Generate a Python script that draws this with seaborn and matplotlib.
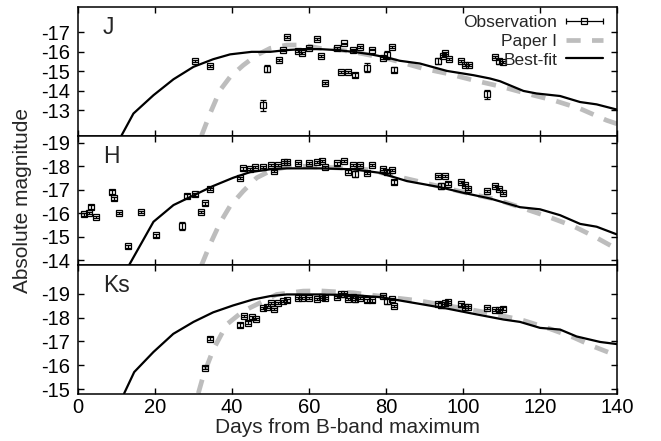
import numpy as np
import pandas as pd
import matplotlib
matplotlib.use("Agg")
import matplotlib.pyplot as plt
import seaborn as sns
from matplotlib.legend_handler import HandlerErrorbar
from matplotlib.container import ErrorbarContainer

# ---------------- data ----------------
# J band
j_fit_day = [11.3, 14.4, 19.6, 24.8, 30.0, 35.1, 39.5, 45.1, 49.9, 54.2, 58.5, 62.9, 67.2, 71.5, 75.8, 80.2,
             83.6, 88.8, 95.8, 102.7, 107.0, 109.6, 115.7, 119.1, 125.2, 130.4, 134.7, 140.0]
j_fit_mag = [-11.7, -12.83, -13.77, -14.59, -15.23, -15.62, -15.87, -16.0, -16.0, -16.09, -16.14, -16.14, -16.09,
             -16.0, -15.88, -15.71, -15.54, -15.4, -15.02, -14.8, -14.63, -14.49, -13.99, -13.86, -13.73, -13.42,
             -13.3, -13.03]
j_p1_day = [32.1, 34.3, 36.9, 39.5, 42.9, 46.4, 49.9, 54.2, 58.5, 62.9, 67.2, 71.5, 75.8, 80.2, 83.6, 89.7,
            95.8, 102.7, 109.6, 116.5, 123.5, 130.4, 137.3, 140.0]
j_p1_mag = [-11.7, -12.83, -14.03, -14.71, -15.31, -15.83, -16.18, -16.35, -16.35, -16.18, -16.12, -16.0, -15.83,
            -15.66, -15.48, -15.14, -14.89, -14.54, -14.23, -13.86, -13.51, -13.08, -12.48, -12.3]
j_obs_day = [30.4, 34.3, 48.1, 49.2, 52.1, 53.2, 54.2, 57.1, 58.2, 60.1, 62.2, 63.2, 64.2, 67.2, 68.2, 69.1,
             70.2, 71.3, 72.0, 73.2, 75.0, 76.3, 79.3, 80.2, 81.5, 82.1, 93.6, 94.7, 95.3, 96.4, 99.5, 100.5,
             101.6, 106.3, 108.3, 109.4, 110.5]
j_obs_mag = [-15.52, -15.26, -13.25, -15.14, -15.60, -16.09, -16.77, -16.04, -15.92, -16.18, -16.64, -15.78,
             -14.42, -16.18, -14.95, -16.43, -14.95, -16.12, -14.80, -16.26, -15.19, -16.12, -15.66, -15.83,
             -16.23, -15.09, -15.52, -15.78, -15.92, -15.62, -15.54, -15.31, -15.31, -13.82, -15.74, -15.52,
             -15.48]
j_obs_err = [0.05, 0.05, 0.28, 0.2, 0.05, 0.05, 0.05, 0.05, 0.05, 0.05, 0.05, 0.05, 0.05, 0.05, 0.05, 0.05,
             0.05, 0.05, 0.1, 0.05, 0.25, 0.05, 0.05, 0.2, 0.05, 0.15, 0.15, 0.05, 0.05, 0.05, 0.05, 0.05,
             0.05, 0.22, 0.05, 0.12, 0.05]

# H band
h_fit_day = [13.1, 19.6, 24.8, 30.0, 35.1, 40.3, 44.7, 49.9, 54.2, 62.9, 71.5, 78.4, 85.4, 94.0, 100.1, 107.0,
             114.8, 120.0, 125.2, 130.4, 134.7, 140.0]
h_fit_mag = [-13.75, -15.64, -16.35, -16.76, -17.16, -17.51, -17.75, -17.87, -17.91, -17.91, -17.87, -17.72,
             -17.37, -17.11, -16.87, -16.63, -16.26, -16.17, -15.92, -15.55, -15.43, -15.1]
h_p1_day = [32.1, 34.3, 36.9, 39.5, 42.9, 46.4, 49.9, 54.2, 58.5, 66.0, 75.0, 82.0, 88.8, 101.8, 108.7, 115.7,
            121.7, 128.7, 133.9, 139.1, 140.0]
h_p1_mag = [-13.8, -14.68, -15.6, -16.31, -16.94, -17.51, -17.8, -17.97, -18.0, -17.94, -17.86, -17.6, -17.34,
            -16.83, -16.59, -16.21, -15.88, -15.45, -15.03, -14.56, -14.5]
h_obs_day = [1.6, 2.9, 3.5, 4.6, 8.75, 9.4, 10.6, 12.9, 16.4, 20.3, 26.9, 28.2, 30.4, 32.0, 33.0, 34.3, 42.1,
             42.9, 44.7, 46.0, 48.1, 50.0, 50.9, 52.0, 53.6, 54.4, 57.2, 60.1, 62.2, 63.3, 64.2, 67.2, 69.1,
             70.2, 71.3, 71.9, 73.2, 75.0, 76.3, 79.3, 80.3, 81.5, 82.1, 93.4, 94.2, 95.4, 96.2, 99.4, 100.5,
             101.4, 106.3, 108.3, 109.4, 110.3]
h_obs_mag = [-15.95, -16.02, -16.28, -15.85, -16.91, -16.63, -16.02, -14.59, -16.06, -15.06, -15.46, -16.73,
             -16.80, -16.05, -16.42, -17.02, -17.49, -17.91, -17.87, -17.97, -17.97, -18.04, -17.80, -18.04,
             -18.19, -18.19, -18.15, -18.15, -18.19, -18.22, -17.98, -18.12, -18.22, -17.77, -18.05, -17.68,
             -18.05, -17.72, -18.04, -17.87, -17.77, -17.84, -17.33, -17.58, -17.16, -17.58, -17.26, -17.33,
             -17.19, -17.04, -16.94, -17.16, -17.02, -16.87]
h_obs_err = [0.05, 0.05, 0.08, 0.05, 0.1, 0.08, 0.05, 0.05, 0.05, 0.05, 0.15, 0.1, 0.05, 0.05, 0.05, 0.05,
             0.05, 0.05, 0.05, 0.05, 0.05, 0.05, 0.05, 0.05, 0.05, 0.05, 0.05, 0.05, 0.05, 0.05, 0.05, 0.05,
             0.05, 0.05, 0.05, 0.12, 0.05, 0.05, 0.05, 0.05, 0.05, 0.05, 0.1, 0.05, 0.12, 0.05, 0.05, 0.05,
             0.05, 0.05, 0.05, 0.05, 0.05, 0.05]

# Ks band
k_fit_day = [12.0, 14.6, 19.6, 24.75, 30.0, 35.1, 40.3, 45.5, 49.9, 54.2, 62.9, 71.5, 78.4, 87.1, 95.8, 102.7,
             110.5, 114.8, 120.0, 125.2, 129.5, 135.6, 140.0]
k_fit_mag = [-14.83, -15.72, -16.56, -17.32, -17.82, -18.22, -18.51, -18.76, -18.9, -18.97, -18.97, -18.94,
             -18.86, -18.62, -18.38, -18.16, -17.92, -17.82, -17.57, -17.5, -17.21, -16.98, -16.89]
k_p1_day = [31.25, 32.6, 35.1, 38.6, 42.9, 47.3, 51.6, 58.5, 62.9, 71.5, 78.4, 88.0, 101.8, 108.7, 115.7,
            122.6, 128.7, 133.9, 138.2, 140.0]
k_p1_mag = [-14.83, -15.6, -16.65, -17.71, -18.27, -18.62, -18.97, -19.11, -19.12, -19.04, -18.9, -18.72,
            -18.34, -18.13, -17.88, -17.53, -17.17, -16.79, -16.52, -16.42]
k_obs_day = [33.0, 34.3, 42.1, 43.1, 44.2, 45.1, 46.2, 48.0, 49.0, 50.0, 50.9, 52.0, 53.3, 54.4, 57.2, 58.1,
             60.1, 62.2, 63.3, 64.2, 67.2, 68.2, 69.1, 70.2, 71.3, 71.9, 73.2, 75.0, 76.3, 79.3, 80.2, 81.5,
             82.1, 93.4, 94.2, 95.4, 96.2, 99.4, 100.5, 101.4, 106.3, 108.3, 109.4, 110.3]
k_obs_mag = [-15.91, -17.12, -17.68, -18.06, -17.78, -18.01, -17.95, -18.41, -18.44, -18.62, -18.37, -18.62,
             -18.69, -18.72, -18.83, -18.83, -18.83, -18.79, -18.86, -18.83, -18.86, -19.0, -19.0, -18.79,
             -18.86, -18.79, -18.83, -18.72, -18.72, -18.9, -18.69, -18.79, -18.48, -18.55, -18.52, -18.62,
             -18.66, -18.55, -18.45, -18.45, -18.41, -18.31, -18.30, -18.38]
k_obs_err = [0.05, 0.05, 0.08, 0.05, 0.06, 0.05, 0.05, 0.05, 0.05, 0.05, 0.05, 0.05, 0.05, 0.05, 0.05, 0.05,
             0.05, 0.05, 0.05, 0.05, 0.05, 0.05, 0.05, 0.05, 0.05, 0.12, 0.05, 0.05, 0.05, 0.05, 0.1, 0.05,
             0.05, 0.05, 0.12, 0.05, 0.05, 0.05, 0.05, 0.05, 0.05, 0.05, 0.05, 0.05]

band_labels = ["J", "H", "Ks"]
band_ylims = [(-11.68, -18.32), (-13.8, -19.29), (-14.79, -20.2)]
band_yticks = [[-17, -16, -15, -14, -13], [-19, -18, -17, -16, -15, -14], [-19, -18, -17, -16, -15]]
xticks = [0, 20, 40, 60, 80, 100, 120, 140]
legend_labels = ["Observation", "Paper I", "Best-fit"]
xlabel = "Days from B-band maximum"
ylabel = "Absolute magnitude"

bands = [
    (j_fit_day, j_fit_mag, j_p1_day, j_p1_mag, j_obs_day, j_obs_mag, j_obs_err),
    (h_fit_day, h_fit_mag, h_p1_day, h_p1_mag, h_obs_day, h_obs_mag, h_obs_err),
    (k_fit_day, k_fit_mag, k_p1_day, k_p1_mag, k_obs_day, k_obs_mag, k_obs_err),
]

# ---------------- style ----------------
sns.set_style("ticks")
plt.rcParams["font.family"] = ["Liberation Sans", "DejaVu Sans"]
plt.rcParams.update({
    "xtick.direction": "in", "ytick.direction": "in",
    "xtick.top": True, "ytick.right": True,
    "xtick.major.size": 4, "ytick.major.size": 4,
    "xtick.major.width": 1.0, "ytick.major.width": 1.0,
    "xtick.major.pad": 3.0, "ytick.major.pad": 6.0,
    "axes.linewidth": 1.1, "axes.edgecolor": "black",
    "xtick.color": "black", "ytick.color": "black",
    "xtick.labelsize": 14.5, "ytick.labelsize": 14.5,
})

fig, axes = plt.subplots(3, 1, figsize=(6.61, 4.41), dpi=100, sharex=True)
fig.subplots_adjust(left=0.118, right=0.9335, top=0.9848, bottom=0.106, hspace=0)

grey = "#bdbdbd"
for ax, lab, ylim, yt, (fd, fm, pd_, pm, od, om, oe) in zip(axes, band_labels, band_ylims, band_yticks, bands):
    sns.lineplot(x=pd_, y=pm, ax=ax, color=grey, lw=3.4, linestyle=(0, (3.0, 2.4)),
                 estimator=None, sort=True)
    sns.lineplot(x=fd, y=fm, ax=ax, color="black", lw=1.6, estimator=None, sort=True)
    ax.errorbar(od, om, yerr=oe, fmt="s", ms=4.5, mfc="none", mec="black", mew=0.9,
                ecolor="black", elinewidth=0.9, capsize=2, capthick=0.9, zorder=3)
    ax.set_xlim(0, 140)
    ax.set_ylim(*ylim)
    ax.set_yticks(yt)
    ax.set_yticklabels([str(v) for v in yt])
    ax.set_xticks(xticks)
    ax.set_xlabel("")
    ax.set_ylabel("")
    ax.text(0.046, 0.84, lab, transform=ax.transAxes, ha="left", va="center", fontsize=16.5)

axes[2].set_xticklabels([str(v) for v in xticks])

# legend (in top panel)
ax0 = axes[0]
obs_proxy = ax0.errorbar([np.nan], [np.nan], xerr=[1.0], fmt="s", ms=4.5, mfc="none", mec="black",
                         mew=0.9, ecolor="black", elinewidth=0.9, capsize=2.5, capthick=0.9)
p1_proxy = plt.Line2D([], [], color=grey, lw=3.4, linestyle=(0, (3.0, 2.4)))
fit_proxy = plt.Line2D([], [], color="black", lw=1.6)
ax0.legend([obs_proxy, p1_proxy, fit_proxy], legend_labels, loc="upper right",
           bbox_to_anchor=(0.974, 0.935), frameon=False, markerfirst=False, fontsize=12.5,
           handlelength=2.15, handletextpad=0.5, labelspacing=0.2, borderpad=0, borderaxespad=0,
           handler_map={ErrorbarContainer: HandlerErrorbar(xerr_size=1.07)})

fig.text((0.118 + 0.9335) / 2, 0.0175, xlabel, ha="center", va="baseline", fontsize=15)
fig.text(0.034, (0.9848 + 0.106) / 2, ylabel, ha="center", va="center", rotation=90, fontsize=15)

fig.savefig("out.png", dpi=100)
